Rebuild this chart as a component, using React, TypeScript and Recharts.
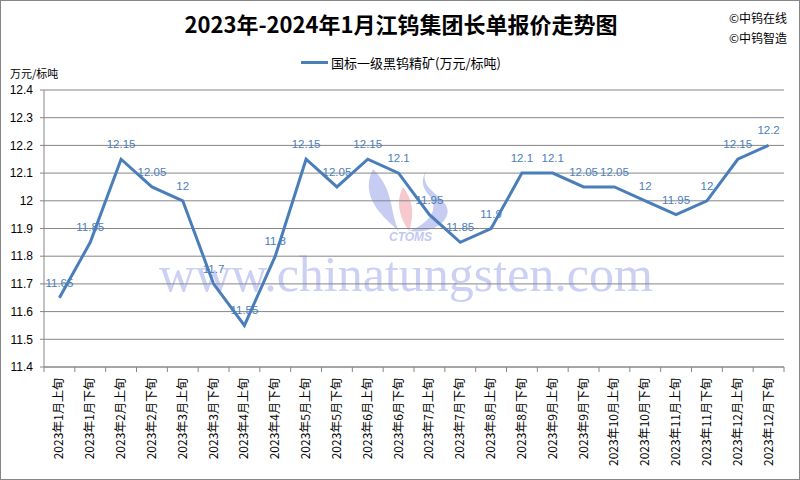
import { LineChart, Line, XAxis, YAxis, CartesianGrid, LabelList } from 'recharts'

const periods = [
  '2023年1月上旬', '2023年1月下旬', '2023年2月上旬', '2023年2月下旬',
  '2023年3月上旬', '2023年3月下旬', '2023年4月上旬', '2023年4月下旬',
  '2023年5月上旬', '2023年5月下旬', '2023年6月上旬', '2023年6月下旬',
  '2023年7月上旬', '2023年7月下旬', '2023年8月上旬', '2023年8月下旬',
  '2023年9月上旬', '2023年9月下旬', '2023年10月上旬', '2023年10月下旬',
  '2023年11月上旬', '2023年11月下旬', '2023年12月上旬', '2023年12月下旬',
]

const prices = [
  11.65, 11.85, 12.15, 12.05, 12, 11.7, 11.55, 11.8,
  12.15, 12.05, 12.15, 12.1, 11.95, 11.85, 11.9, 12.1,
  12.1, 12.05, 12.05, 12, 11.95, 12, 12.15, 12.2,
]

const yTicks = [11.4, 11.5, 11.6, 11.7, 11.8, 11.9, 12, 12.1, 12.2, 12.3, 12.4]

const seriesName = '国标一级黑钨精矿(万元/标吨)'
const lineColor = '#4a7ebb'
const axisColor = '#868686'
const markColor = '#c3c8f3'

const W = 800
const H = 480
const Y_AXIS_W = 44
const RIGHT = 16
const halfBand = (W - Y_AXIS_W - RIGHT) / periods.length / 2

const chartData = periods.map((p, i) => ({ period: p, price: prices[i] }))

function PeriodTick(props: any) {
  const { x, y, payload, index } = props
  return (
    <g>
      {index === 0 && (
        <line x1={x - halfBand} y1={y} x2={x - halfBand} y2={y + 5} stroke={axisColor} />
      )}
      <line x1={x + halfBand} y1={y} x2={x + halfBand} y2={y + 5} stroke={axisColor} />
      <text
        transform={`translate(${x + 4},${y + 11}) rotate(-90)`}
        textAnchor="end"
        fontSize={12}
        fill="#000"
        fontFamily="'Noto Sans CJK SC', sans-serif"
      >
        {payload.value}
      </text>
    </g>
  )
}

// faint CTOMS logo behind the plot
function Watermark() {
  return (
    <>
      <svg width={W} height={H} style={{ position: 'absolute', left: 0, top: 0 }}>
        <g opacity={0.8}>
          <path d="M372 168 C358 196 382 216 398 230 C388 210 394 190 372 168 Z" fill="#b9c0f0" />
          <path d="M402 186 C394 202 399 217 408 230 C413 215 413 200 402 186 Z" fill="#f4bcc4" />
          <path
            d="M426 168 C414 190 452 196 446 214 C441 228 422 232 408 230 C430 222 440 206 426 192 C420 184 421 176 426 168 Z"
            fill="#b9c0f0"
          />
        </g>
      </svg>
      <div
        style={{
          position: 'absolute',
          top: 229,
          left: 388,
          fontFamily: "'Liberation Sans', sans-serif",
          fontStyle: 'italic',
          fontWeight: 700,
          fontSize: 12,
          lineHeight: '14px',
          color: markColor,
        }}
      >
        CTOMS
      </div>
      <div
        style={{
          position: 'absolute',
          top: 253,
          left: 0,
          width: W + 10,
          textAlign: 'center',
          fontFamily: "'Liberation Serif', serif",
          fontSize: 50,
          lineHeight: '40px',
          color: markColor,
          opacity: 0.85,
        }}
      >
        www.chinatungsten.com
      </div>
    </>
  )
}

export default function App() {
  return (
    <div
      style={{
        position: 'absolute',
        left: 0,
        top: 0,
        width: W,
        height: H,
        background: '#fff',
        border: `1px solid ${axisColor}`,
        boxSizing: 'border-box',
        fontFamily: "'Noto Sans CJK SC', sans-serif",
        overflow: 'hidden',
      }}
    >
      <div
        style={{
          position: 'absolute',
          top: 6,
          left: 0,
          width: W,
          textAlign: 'center',
          fontSize: 22,
          fontWeight: 700,
          color: '#000',
          lineHeight: '32px',
        }}
      >
        2023年-2024年1月江钨集团长单报价走势图
      </div>
      <div style={{ position: 'absolute', top: 7, left: 728, fontSize: 12, lineHeight: '20px', color: '#000' }}>
        <div>©中钨在线</div>
        <div>©中钨智造</div>
      </div>
      <div
        style={{
          position: 'absolute',
          top: 52,
          left: 0,
          width: W,
          display: 'flex',
          alignItems: 'center',
          justifyContent: 'center',
          gap: 3,
        }}
      >
        <div style={{ width: 27, height: 3, background: lineColor }} />
        <span style={{ fontSize: 13, color: '#000' }}>{seriesName}</span>
      </div>
      <div style={{ position: 'absolute', top: 64, left: 9, fontSize: 11, color: '#000' }}>万元/标吨</div>

      <Watermark />

      <div style={{ position: 'absolute', left: -1, top: -1 }}>
        <LineChart
          width={W}
          height={H}
          data={chartData}
          margin={{ top: 90, right: RIGHT, left: 0, bottom: 0 }}
        >
          <CartesianGrid vertical={false} stroke={axisColor} strokeWidth={1} />
          <XAxis
            dataKey="period"
            interval={0}
            height={H - 367}
            padding={{ left: halfBand, right: halfBand }}
            tick={<PeriodTick />}
            tickLine={false}
            tickSize={0}
            tickMargin={0}
            axisLine={{ stroke: axisColor }}
          />
          <YAxis
            width={Y_AXIS_W}
            domain={[11.4, 12.4]}
            ticks={yTicks}
            interval={0}
            tick={{ fontSize: 12, fill: '#000', fontFamily: "'Liberation Sans', sans-serif" }}
            tickLine={{ stroke: axisColor }}
            tickSize={4}
            tickMargin={7}
            axisLine={{ stroke: axisColor }}
          />
          <Line
            type="linear"
            dataKey="price"
            name={seriesName}
            stroke={lineColor}
            strokeWidth={3}
            dot={false}
            isAnimationActive={false}
          >
            <LabelList
              dataKey="price"
              position="top"
              offset={11}
              fontSize={11.5}
              fill={lineColor}
              fontFamily="'Liberation Sans', sans-serif"
            />
          </Line>
        </LineChart>
      </div>
    </div>
  )
}
